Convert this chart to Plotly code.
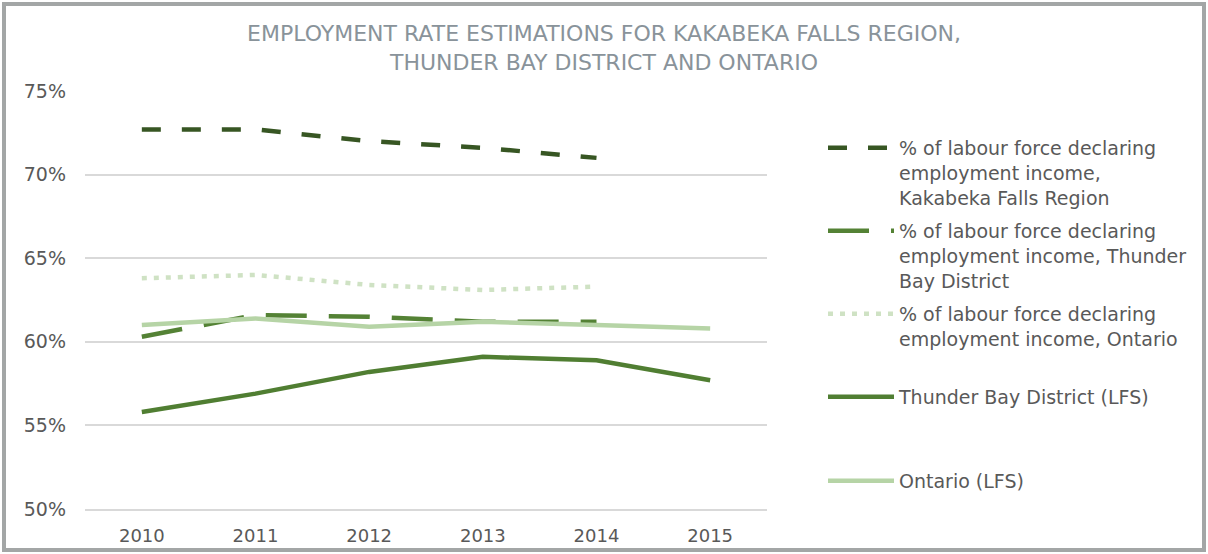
import plotly.graph_objects as go

years = ["2010", "2011", "2012", "2013", "2014", "2015"]
kakabeka_decl = [72.7, 72.7, 72.0, 71.6, 71.0, None]
tbay_decl = [60.3, 61.6, 61.5, 61.2, 61.2, None]
ontario_decl = [63.8, 64.0, 63.4, 63.1, 63.3, None]
tbay_lfs = [55.8, 56.9, 58.2, 59.1, 58.9, 57.7]
ontario_lfs = [61.0, 61.4, 60.9, 61.2, 61.0, 60.8]

names = [
    "% of labour force declaring<br>employment income,<br>Kakabeka Falls Region",
    "% of labour force declaring<br>employment income, Thunder<br>Bay District",
    "% of labour force declaring<br>employment income, Ontario",
    "Thunder Bay District (LFS)",
    "Ontario (LFS)",
]
series = [kakabeka_decl, tbay_decl, ontario_decl, tbay_lfs, ontario_lfs]
colors = ["#375623", "#548235", "#cfe2c4", "#507e32", "#b6d4a6"]
dashes = ["19px,21px", "41px,22px", "5px,7px", "solid", "solid"]

# layout geometry (pixels)
W, H = 1208, 554
ML, MR, MT, MB = 85, 441, 91, 45
PW, PH = W - ML - MR, H - MT - MB

def px_x(p):
    return (p - ML) / PW

def px_y(p):
    return (H - MB - p) / PH

fig = go.Figure()
legend_tops = [129, 212, 295, 378, 462]
for i, (nm, vals, c, d) in enumerate(zip(names, series, colors, dashes)):
    lg = "legend" if i == 0 else f"legend{i+1}"
    fig.add_trace(go.Scatter(
        x=years, y=vals, name=nm, mode="lines",
        line=dict(color=c, width=4.5, dash=d),
        legend=lg, connectgaps=False, showlegend=True,
    ))

legend_common = dict(
    xanchor="left", yanchor="top", bgcolor="rgba(0,0,0,0)",
    font=dict(family="DejaVu Sans", size=19, color="#595959"),
    itemwidth=66, valign="top", borderwidth=0,
)
for i, top in enumerate(legend_tops):
    key = "legend" if i == 0 else f"legend{i+1}"
    fig.update_layout({key: dict(x=px_x(823), y=px_y(top), **legend_common)})

fig.update_layout(
    width=W, height=H, showlegend=True,
    margin=dict(l=ML, r=MR, t=MT, b=MB, autoexpand=False),
    paper_bgcolor="white", plot_bgcolor="white",
    title=dict(
        text="EMPLOYMENT RATE ESTIMATIONS FOR KAKABEKA FALLS REGION,<br>THUNDER BAY DISTRICT AND ONTARIO",
        x=0.5, xanchor="center", y=1 - 41 / H, yanchor="top",
        font=dict(family="DejaVu Sans", size=22, color="#89939a"),
    ),
    xaxis=dict(
        type="category", range=[-0.5, 5.5], showgrid=False, showline=True,
        linecolor="#d9d9d9", linewidth=1.5, ticks="",
        tickfont=dict(family="DejaVu Sans", size=18, color="#595959"),
        ticklabelstandoff=10,
    ),
    yaxis=dict(
        range=[50, 75], dtick=5, ticksuffix="%", showgrid=True,
        gridcolor="#d9d9d9", gridwidth=1.5, zeroline=False, showline=False,
        ticks="", tickfont=dict(family="DejaVu Sans", size=19, color="#595959"),
        ticklabelstandoff=18,
    ),
    shapes=[dict(
        type="rect", xref="paper", yref="paper",
        x0=px_x(4), x1=px_x(1204), y0=px_y(550), y1=px_y(4),
        line=dict(color="#a3a6a6", width=4), fillcolor="rgba(0,0,0,0)", layer="below",
    )],
)

fig.write_html(
    "out.html",
    config={"displayModeBar": False},
    post_script="document.body.style.margin='0';",
)
